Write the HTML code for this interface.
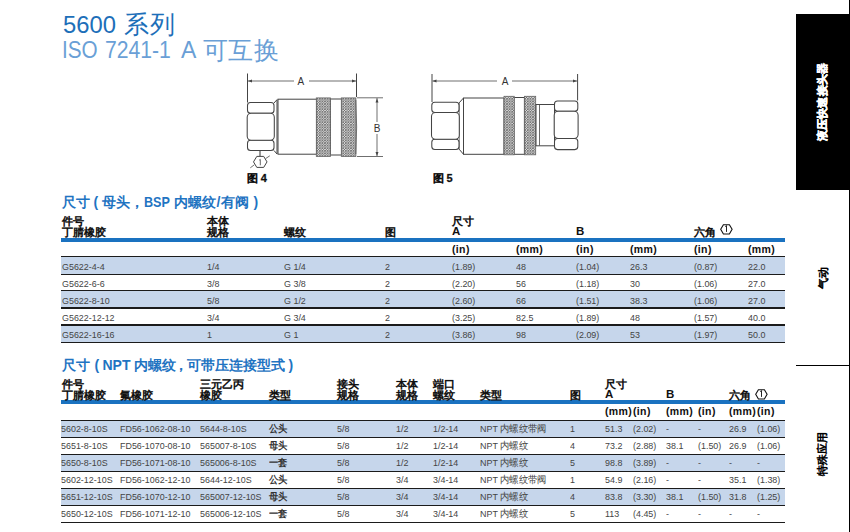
<!DOCTYPE html>
<html><head><meta charset="utf-8">
<style>
html,body{margin:0;padding:0;background:#fff;width:850px;height:532px;overflow:hidden;}
body{position:relative;font-family:"Liberation Sans", sans-serif;}
.t{position:absolute;white-space:nowrap;line-height:1.2;}
.r{position:absolute;}
svg{position:absolute;left:0;top:0;}
</style></head><body>
<div class="t" style="left:63px;top:10.5px;font-size:23.8px;color:#1d6fb9;font-weight:normal;">5600</div>
<div class="t" style="left:124px;top:9px;font-size:25px;color:#1d6fb9;font-weight:normal;letter-spacing:0.5px;">系列</div>
<div class="t" style="left:62px;top:37px;font-size:23px;color:#6a9fd6;font-weight:normal;transform:scaleX(0.9);transform-origin:0 0;">ISO</div>
<div class="t" style="left:105px;top:37px;font-size:23px;color:#6a9fd6;font-weight:normal;transform:scaleX(0.92);transform-origin:0 0;">7241-1</div>
<div class="t" style="left:181px;top:37px;font-size:23px;color:#6a9fd6;font-weight:normal;">A</div>
<div class="t" style="left:202.5px;top:34.5px;font-size:25px;color:#6a9fd6;font-weight:normal;letter-spacing:0.5px;">可互换</div>
<div class="r" style="left:796px;top:14px;width:53px;height:176px;background:#000;"></div>
<div class="r" style="left:848.6px;top:0px;width:1.3px;height:532px;background:#000;"></div>
<div class="r" style="left:796px;top:365px;width:53px;height:1.2px;background:#000;"></div>
<div class="t" style="left:822.5px;top:101.5px;font-size:11.3px;color:#fff;font-weight:bold;transform:translate(-50%,-50%) rotate(-90deg);line-height:1;letter-spacing:0.2px;-webkit-text-stroke:0.5px #fff;">液压快速接头器</div>
<div class="t" style="left:823px;top:277.5px;font-size:11px;color:#000;font-weight:bold;transform:translate(-50%,-50%) rotate(-90deg);line-height:1;letter-spacing:0px;-webkit-text-stroke:0.3px rgba(0,0,0,0.4);">气动</div>
<div class="t" style="left:822px;top:453.5px;font-size:11px;color:#000;font-weight:bold;transform:translate(-50%,-50%) rotate(-90deg);line-height:1;letter-spacing:0px;-webkit-text-stroke:0.3px rgba(0,0,0,0.4);">特殊应用</div>
<div class="t" style="left:61.5px;top:193.7px;font-size:14px;color:#1f74c2;font-weight:bold;">尺寸</div>
<div class="t" style="left:93.5px;top:193.7px;font-size:14px;color:#1f74c2;font-weight:bold;">(</div>
<div class="t" style="left:101.5px;top:193.7px;font-size:14px;color:#1f74c2;font-weight:bold;">母头</div>
<div class="t" style="left:129.5px;top:193.7px;font-size:14px;color:#1f74c2;font-weight:bold;">，</div>
<div class="t" style="left:144px;top:193.7px;font-size:14px;color:#1f74c2;font-weight:bold;"><span style="display:inline-block;transform:scaleX(0.9);transform-origin:0 0">BSP</span></div>
<div class="t" style="left:174px;top:193.7px;font-size:14px;color:#1f74c2;font-weight:bold;"><span style="letter-spacing:0.2px">内螺纹/有阀</span></div>
<div class="t" style="left:253.5px;top:193.7px;font-size:14px;color:#1f74c2;font-weight:bold;">)</div>
<div class="t" style="left:62px;top:356.5px;font-size:14px;color:#1f74c2;font-weight:bold;">尺寸</div>
<div class="t" style="left:94.5px;top:356.5px;font-size:14px;color:#1f74c2;font-weight:bold;">(</div>
<div class="t" style="left:102.5px;top:356.5px;font-size:14px;color:#1f74c2;font-weight:bold;">NPT</div>
<div class="t" style="left:133.5px;top:356.5px;font-size:14px;color:#1f74c2;font-weight:bold;">内螺纹</div>
<div class="t" style="left:173.5px;top:356.5px;font-size:14px;color:#1f74c2;font-weight:bold;">，</div>
<div class="t" style="left:187px;top:356.5px;font-size:14px;color:#1f74c2;font-weight:bold;">可带压连接型式</div>
<div class="t" style="left:288.5px;top:356.5px;font-size:14px;color:#1f74c2;font-weight:bold;">)</div>
<div class="r" style="left:61px;top:238px;width:724px;height:3.5px;background:#1a72c0;"></div>
<div class="r" style="left:61px;top:256.8px;width:724px;height:17.399999999999977px;background:#c6d6eb;"></div>
<div class="r" style="left:61px;top:290.8px;width:724px;height:17.19999999999999px;background:#c6d6eb;"></div>
<div class="r" style="left:61px;top:325.0px;width:724px;height:17.19999999999999px;background:#c6d6eb;"></div>
<div class="r" style="left:61px;top:256.15000000000003px;width:724px;height:1.3px;background:#1b1b1b;"></div>
<div class="r" style="left:61px;top:273.55px;width:724px;height:1.3px;background:#1b1b1b;"></div>
<div class="r" style="left:61px;top:290.15000000000003px;width:724px;height:1.3px;background:#1b1b1b;"></div>
<div class="r" style="left:61px;top:307.35px;width:724px;height:1.3px;background:#1b1b1b;"></div>
<div class="r" style="left:61px;top:324.35px;width:724px;height:1.3px;background:#1b1b1b;"></div>
<div class="r" style="left:61px;top:341.55px;width:724px;height:1.3px;background:#1b1b1b;"></div>
<div class="t" style="left:62px;top:214.5px;font-size:10.5px;color:#111;font-weight:bold;-webkit-text-stroke:0.4px rgba(17,17,17,0.4);">件号</div>
<div class="t" style="left:62px;top:225.5px;font-size:10.5px;color:#111;font-weight:bold;-webkit-text-stroke:0.4px rgba(17,17,17,0.4);">丁腈橡胶</div>
<div class="t" style="left:207px;top:214.5px;font-size:10.5px;color:#111;font-weight:bold;-webkit-text-stroke:0.4px rgba(17,17,17,0.4);">本体</div>
<div class="t" style="left:207px;top:225.5px;font-size:10.5px;color:#111;font-weight:bold;-webkit-text-stroke:0.4px rgba(17,17,17,0.4);">规格</div>
<div class="t" style="left:284px;top:225.5px;font-size:10.5px;color:#111;font-weight:bold;-webkit-text-stroke:0.4px rgba(17,17,17,0.4);">螺纹</div>
<div class="t" style="left:385px;top:225.5px;font-size:10.5px;color:#111;font-weight:bold;-webkit-text-stroke:0.4px rgba(17,17,17,0.4);">图</div>
<div class="t" style="left:452px;top:214.5px;font-size:10.5px;color:#111;font-weight:bold;-webkit-text-stroke:0.4px rgba(17,17,17,0.4);">尺寸</div>
<div class="t" style="left:452px;top:224.8px;font-size:11.5px;color:#111;font-weight:bold;">A</div>
<div class="t" style="left:576px;top:224.8px;font-size:11.5px;color:#111;font-weight:bold;">B</div>
<div class="t" style="left:694px;top:225.5px;font-size:10.5px;color:#111;font-weight:bold;-webkit-text-stroke:0.4px rgba(17,17,17,0.4);">六角</div>
<svg style="left:720px;top:224.1px" width="13" height="11" viewBox="0 0 13 11"><path d="M0.7,5.3 L3.4,0.7 L9.4,0.7 L12.1,5.3 L9.4,10 L3.4,10 Z" fill="none" stroke="#111" stroke-width="1.1"/><path d="M5.2,2.6 L6.5,1.6 L6.5,7.9" fill="none" stroke="#222" stroke-width="1"/></svg>
<div class="t" style="left:452px;top:243px;font-size:10.5px;color:#111;font-weight:bold;letter-spacing:0.35px;">(in)</div>
<div class="t" style="left:516px;top:243px;font-size:10.5px;color:#111;font-weight:bold;letter-spacing:0.35px;">(mm)</div>
<div class="t" style="left:576px;top:243px;font-size:10.5px;color:#111;font-weight:bold;letter-spacing:0.35px;">(in)</div>
<div class="t" style="left:630px;top:243px;font-size:10.5px;color:#111;font-weight:bold;letter-spacing:0.35px;">(mm)</div>
<div class="t" style="left:694px;top:243px;font-size:10.5px;color:#111;font-weight:bold;letter-spacing:0.35px;">(in)</div>
<div class="t" style="left:748px;top:243px;font-size:10.5px;color:#111;font-weight:bold;letter-spacing:0.35px;">(mm)</div>
<div class="t" style="left:62px;top:260.6px;font-size:9.6px;color:#444;font-weight:normal;transform:scaleX(0.93);transform-origin:0 0;">G5622-4-4</div>
<div class="t" style="left:207px;top:260.6px;font-size:9.6px;color:#444;font-weight:normal;transform:scaleX(0.93);transform-origin:0 0;">1/4</div>
<div class="t" style="left:284px;top:260.6px;font-size:9.6px;color:#444;font-weight:normal;transform:scaleX(0.93);transform-origin:0 0;">G 1/4</div>
<div class="t" style="left:385px;top:260.6px;font-size:9.6px;color:#444;font-weight:normal;transform:scaleX(0.93);transform-origin:0 0;">2</div>
<div class="t" style="left:452px;top:260.6px;font-size:9.6px;color:#444;font-weight:normal;transform:scaleX(0.93);transform-origin:0 0;">(1.89)</div>
<div class="t" style="left:516px;top:260.6px;font-size:9.6px;color:#444;font-weight:normal;transform:scaleX(0.93);transform-origin:0 0;">48</div>
<div class="t" style="left:576px;top:260.6px;font-size:9.6px;color:#444;font-weight:normal;transform:scaleX(0.93);transform-origin:0 0;">(1.04)</div>
<div class="t" style="left:630px;top:260.6px;font-size:9.6px;color:#444;font-weight:normal;transform:scaleX(0.93);transform-origin:0 0;">26.3</div>
<div class="t" style="left:694px;top:260.6px;font-size:9.6px;color:#444;font-weight:normal;transform:scaleX(0.93);transform-origin:0 0;">(0.87)</div>
<div class="t" style="left:748px;top:260.6px;font-size:9.6px;color:#444;font-weight:normal;transform:scaleX(0.93);transform-origin:0 0;">22.0</div>
<div class="t" style="left:62px;top:278.0px;font-size:9.6px;color:#444;font-weight:normal;transform:scaleX(0.93);transform-origin:0 0;">G5622-6-6</div>
<div class="t" style="left:207px;top:278.0px;font-size:9.6px;color:#444;font-weight:normal;transform:scaleX(0.93);transform-origin:0 0;">3/8</div>
<div class="t" style="left:284px;top:278.0px;font-size:9.6px;color:#444;font-weight:normal;transform:scaleX(0.93);transform-origin:0 0;">G 3/8</div>
<div class="t" style="left:385px;top:278.0px;font-size:9.6px;color:#444;font-weight:normal;transform:scaleX(0.93);transform-origin:0 0;">2</div>
<div class="t" style="left:452px;top:278.0px;font-size:9.6px;color:#444;font-weight:normal;transform:scaleX(0.93);transform-origin:0 0;">(2.20)</div>
<div class="t" style="left:516px;top:278.0px;font-size:9.6px;color:#444;font-weight:normal;transform:scaleX(0.93);transform-origin:0 0;">56</div>
<div class="t" style="left:576px;top:278.0px;font-size:9.6px;color:#444;font-weight:normal;transform:scaleX(0.93);transform-origin:0 0;">(1.18)</div>
<div class="t" style="left:630px;top:278.0px;font-size:9.6px;color:#444;font-weight:normal;transform:scaleX(0.93);transform-origin:0 0;">30</div>
<div class="t" style="left:694px;top:278.0px;font-size:9.6px;color:#444;font-weight:normal;transform:scaleX(0.93);transform-origin:0 0;">(1.06)</div>
<div class="t" style="left:748px;top:278.0px;font-size:9.6px;color:#444;font-weight:normal;transform:scaleX(0.93);transform-origin:0 0;">27.0</div>
<div class="t" style="left:62px;top:294.6px;font-size:9.6px;color:#444;font-weight:normal;transform:scaleX(0.93);transform-origin:0 0;">G5622-8-10</div>
<div class="t" style="left:207px;top:294.6px;font-size:9.6px;color:#444;font-weight:normal;transform:scaleX(0.93);transform-origin:0 0;">5/8</div>
<div class="t" style="left:284px;top:294.6px;font-size:9.6px;color:#444;font-weight:normal;transform:scaleX(0.93);transform-origin:0 0;">G 1/2</div>
<div class="t" style="left:385px;top:294.6px;font-size:9.6px;color:#444;font-weight:normal;transform:scaleX(0.93);transform-origin:0 0;">2</div>
<div class="t" style="left:452px;top:294.6px;font-size:9.6px;color:#444;font-weight:normal;transform:scaleX(0.93);transform-origin:0 0;">(2.60)</div>
<div class="t" style="left:516px;top:294.6px;font-size:9.6px;color:#444;font-weight:normal;transform:scaleX(0.93);transform-origin:0 0;">66</div>
<div class="t" style="left:576px;top:294.6px;font-size:9.6px;color:#444;font-weight:normal;transform:scaleX(0.93);transform-origin:0 0;">(1.51)</div>
<div class="t" style="left:630px;top:294.6px;font-size:9.6px;color:#444;font-weight:normal;transform:scaleX(0.93);transform-origin:0 0;">38.3</div>
<div class="t" style="left:694px;top:294.6px;font-size:9.6px;color:#444;font-weight:normal;transform:scaleX(0.93);transform-origin:0 0;">(1.06)</div>
<div class="t" style="left:748px;top:294.6px;font-size:9.6px;color:#444;font-weight:normal;transform:scaleX(0.93);transform-origin:0 0;">27.0</div>
<div class="t" style="left:62px;top:311.8px;font-size:9.6px;color:#444;font-weight:normal;transform:scaleX(0.93);transform-origin:0 0;">G5622-12-12</div>
<div class="t" style="left:207px;top:311.8px;font-size:9.6px;color:#444;font-weight:normal;transform:scaleX(0.93);transform-origin:0 0;">3/4</div>
<div class="t" style="left:284px;top:311.8px;font-size:9.6px;color:#444;font-weight:normal;transform:scaleX(0.93);transform-origin:0 0;">G 3/4</div>
<div class="t" style="left:385px;top:311.8px;font-size:9.6px;color:#444;font-weight:normal;transform:scaleX(0.93);transform-origin:0 0;">2</div>
<div class="t" style="left:452px;top:311.8px;font-size:9.6px;color:#444;font-weight:normal;transform:scaleX(0.93);transform-origin:0 0;">(3.25)</div>
<div class="t" style="left:516px;top:311.8px;font-size:9.6px;color:#444;font-weight:normal;transform:scaleX(0.93);transform-origin:0 0;">82.5</div>
<div class="t" style="left:576px;top:311.8px;font-size:9.6px;color:#444;font-weight:normal;transform:scaleX(0.93);transform-origin:0 0;">(1.89)</div>
<div class="t" style="left:630px;top:311.8px;font-size:9.6px;color:#444;font-weight:normal;transform:scaleX(0.93);transform-origin:0 0;">48</div>
<div class="t" style="left:694px;top:311.8px;font-size:9.6px;color:#444;font-weight:normal;transform:scaleX(0.93);transform-origin:0 0;">(1.57)</div>
<div class="t" style="left:748px;top:311.8px;font-size:9.6px;color:#444;font-weight:normal;transform:scaleX(0.93);transform-origin:0 0;">40.0</div>
<div class="t" style="left:62px;top:328.8px;font-size:9.6px;color:#444;font-weight:normal;transform:scaleX(0.93);transform-origin:0 0;">G5622-16-16</div>
<div class="t" style="left:207px;top:328.8px;font-size:9.6px;color:#444;font-weight:normal;transform:scaleX(0.93);transform-origin:0 0;">1</div>
<div class="t" style="left:284px;top:328.8px;font-size:9.6px;color:#444;font-weight:normal;transform:scaleX(0.93);transform-origin:0 0;">G 1</div>
<div class="t" style="left:385px;top:328.8px;font-size:9.6px;color:#444;font-weight:normal;transform:scaleX(0.93);transform-origin:0 0;">2</div>
<div class="t" style="left:452px;top:328.8px;font-size:9.6px;color:#444;font-weight:normal;transform:scaleX(0.93);transform-origin:0 0;">(3.86)</div>
<div class="t" style="left:516px;top:328.8px;font-size:9.6px;color:#444;font-weight:normal;transform:scaleX(0.93);transform-origin:0 0;">98</div>
<div class="t" style="left:576px;top:328.8px;font-size:9.6px;color:#444;font-weight:normal;transform:scaleX(0.93);transform-origin:0 0;">(2.09)</div>
<div class="t" style="left:630px;top:328.8px;font-size:9.6px;color:#444;font-weight:normal;transform:scaleX(0.93);transform-origin:0 0;">53</div>
<div class="t" style="left:694px;top:328.8px;font-size:9.6px;color:#444;font-weight:normal;transform:scaleX(0.93);transform-origin:0 0;">(1.97)</div>
<div class="t" style="left:748px;top:328.8px;font-size:9.6px;color:#444;font-weight:normal;transform:scaleX(0.93);transform-origin:0 0;">50.0</div>
<div class="r" style="left:61px;top:400px;width:724px;height:3.5px;background:#1a72c0;"></div>
<div class="r" style="left:61px;top:420.4px;width:724px;height:17.0px;background:#c6d6eb;"></div>
<div class="r" style="left:61px;top:454.5px;width:724px;height:17.100000000000023px;background:#c6d6eb;"></div>
<div class="r" style="left:61px;top:488.6px;width:724px;height:17.099999999999966px;background:#c6d6eb;"></div>
<div class="r" style="left:61px;top:419.75px;width:724px;height:1.3px;background:#1b1b1b;"></div>
<div class="r" style="left:61px;top:436.75px;width:724px;height:1.3px;background:#1b1b1b;"></div>
<div class="r" style="left:61px;top:453.85px;width:724px;height:1.3px;background:#1b1b1b;"></div>
<div class="r" style="left:61px;top:470.95000000000005px;width:724px;height:1.3px;background:#1b1b1b;"></div>
<div class="r" style="left:61px;top:487.95000000000005px;width:724px;height:1.3px;background:#1b1b1b;"></div>
<div class="r" style="left:61px;top:505.05px;width:724px;height:1.3px;background:#1b1b1b;"></div>
<div class="r" style="left:61px;top:522.0500000000001px;width:724px;height:1.3px;background:#1b1b1b;"></div>
<div class="t" style="left:62px;top:377.5px;font-size:10.5px;color:#111;font-weight:bold;-webkit-text-stroke:0.4px rgba(17,17,17,0.4);">件号</div>
<div class="t" style="left:62px;top:388.5px;font-size:10.5px;color:#111;font-weight:bold;-webkit-text-stroke:0.4px rgba(17,17,17,0.4);">丁腈橡胶</div>
<div class="t" style="left:120px;top:388.5px;font-size:10.5px;color:#111;font-weight:bold;-webkit-text-stroke:0.4px rgba(17,17,17,0.4);">氟橡胶</div>
<div class="t" style="left:200px;top:377.5px;font-size:10.5px;color:#111;font-weight:bold;-webkit-text-stroke:0.4px rgba(17,17,17,0.4);">三元乙丙</div>
<div class="t" style="left:200px;top:388.5px;font-size:10.5px;color:#111;font-weight:bold;-webkit-text-stroke:0.4px rgba(17,17,17,0.4);">橡胶</div>
<div class="t" style="left:269px;top:388.5px;font-size:10.5px;color:#111;font-weight:bold;-webkit-text-stroke:0.4px rgba(17,17,17,0.4);">类型</div>
<div class="t" style="left:337px;top:377.5px;font-size:10.5px;color:#111;font-weight:bold;-webkit-text-stroke:0.4px rgba(17,17,17,0.4);">接头</div>
<div class="t" style="left:337px;top:388.5px;font-size:10.5px;color:#111;font-weight:bold;-webkit-text-stroke:0.4px rgba(17,17,17,0.4);">规格</div>
<div class="t" style="left:396px;top:377.5px;font-size:10.5px;color:#111;font-weight:bold;-webkit-text-stroke:0.4px rgba(17,17,17,0.4);">本体</div>
<div class="t" style="left:396px;top:388.5px;font-size:10.5px;color:#111;font-weight:bold;-webkit-text-stroke:0.4px rgba(17,17,17,0.4);">规格</div>
<div class="t" style="left:433px;top:377.5px;font-size:10.5px;color:#111;font-weight:bold;-webkit-text-stroke:0.4px rgba(17,17,17,0.4);">端口</div>
<div class="t" style="left:433px;top:388.5px;font-size:10.5px;color:#111;font-weight:bold;-webkit-text-stroke:0.4px rgba(17,17,17,0.4);">螺纹</div>
<div class="t" style="left:480px;top:388.5px;font-size:10.5px;color:#111;font-weight:bold;-webkit-text-stroke:0.4px rgba(17,17,17,0.4);">类型</div>
<div class="t" style="left:570px;top:388.5px;font-size:10.5px;color:#111;font-weight:bold;-webkit-text-stroke:0.4px rgba(17,17,17,0.4);">图</div>
<div class="t" style="left:605px;top:377.5px;font-size:10.5px;color:#111;font-weight:bold;-webkit-text-stroke:0.4px rgba(17,17,17,0.4);">尺寸</div>
<div class="t" style="left:605px;top:387.8px;font-size:11.5px;color:#111;font-weight:bold;">A</div>
<div class="t" style="left:666px;top:387.8px;font-size:11.5px;color:#111;font-weight:bold;">B</div>
<div class="t" style="left:729px;top:388.5px;font-size:10.5px;color:#111;font-weight:bold;-webkit-text-stroke:0.4px rgba(17,17,17,0.4);">六角</div>
<svg style="left:754.7px;top:388.8px" width="13" height="11" viewBox="0 0 13 11"><path d="M0.7,5.3 L3.4,0.7 L9.4,0.7 L12.1,5.3 L9.4,10 L3.4,10 Z" fill="none" stroke="#111" stroke-width="1.1"/><path d="M5.2,2.6 L6.5,1.6 L6.5,7.9" fill="none" stroke="#222" stroke-width="1"/></svg>
<div class="t" style="left:605px;top:405px;font-size:10.5px;color:#111;font-weight:bold;letter-spacing:0.35px;">(mm)</div>
<div class="t" style="left:633px;top:405px;font-size:10.5px;color:#111;font-weight:bold;letter-spacing:0.35px;">(in)</div>
<div class="t" style="left:666px;top:405px;font-size:10.5px;color:#111;font-weight:bold;letter-spacing:0.35px;">(mm)</div>
<div class="t" style="left:698px;top:405px;font-size:10.5px;color:#111;font-weight:bold;letter-spacing:0.35px;">(in)</div>
<div class="t" style="left:729px;top:405px;font-size:10.5px;color:#111;font-weight:bold;letter-spacing:0.35px;">(mm)</div>
<div class="t" style="left:757px;top:405px;font-size:10.5px;color:#111;font-weight:bold;letter-spacing:0.35px;">(in)</div>
<div class="t" style="left:61px;top:423.0px;font-size:9.6px;color:#444;font-weight:normal;transform:scaleX(0.93);transform-origin:0 0;">5602-8-10S</div>
<div class="t" style="left:120px;top:423.0px;font-size:9.6px;color:#444;font-weight:normal;transform:scaleX(0.93);transform-origin:0 0;">FD56-1062-08-10</div>
<div class="t" style="left:200px;top:423.0px;font-size:9.6px;color:#444;font-weight:normal;transform:scaleX(0.93);transform-origin:0 0;">5644-8-10S</div>
<div class="t" style="left:269px;top:423.0px;font-size:9.6px;color:#444;font-weight:normal;transform:scaleX(0.93);transform-origin:0 0;"><b style="color:#333">公头</b></div>
<div class="t" style="left:337px;top:423.0px;font-size:9.6px;color:#444;font-weight:normal;transform:scaleX(0.93);transform-origin:0 0;">5/8</div>
<div class="t" style="left:396px;top:423.0px;font-size:9.6px;color:#444;font-weight:normal;transform:scaleX(0.93);transform-origin:0 0;">1/2</div>
<div class="t" style="left:433px;top:423.0px;font-size:9.6px;color:#444;font-weight:normal;transform:scaleX(0.93);transform-origin:0 0;">1/2-14</div>
<div class="t" style="left:480px;top:423.0px;font-size:9.6px;color:#444;font-weight:normal;transform:scaleX(0.93);transform-origin:0 0;">NPT 内螺纹带阀</div>
<div class="t" style="left:570px;top:423.0px;font-size:9.6px;color:#444;font-weight:normal;transform:scaleX(0.93);transform-origin:0 0;">1</div>
<div class="t" style="left:605px;top:423.0px;font-size:9.6px;color:#444;font-weight:normal;transform:scaleX(0.93);transform-origin:0 0;">51.3</div>
<div class="t" style="left:633px;top:423.0px;font-size:9.6px;color:#444;font-weight:normal;transform:scaleX(0.93);transform-origin:0 0;">(2.02)</div>
<div class="t" style="left:666px;top:423.0px;font-size:9.6px;color:#444;font-weight:normal;transform:scaleX(0.93);transform-origin:0 0;">-</div>
<div class="t" style="left:698px;top:423.0px;font-size:9.6px;color:#444;font-weight:normal;transform:scaleX(0.93);transform-origin:0 0;">-</div>
<div class="t" style="left:729px;top:423.0px;font-size:9.6px;color:#444;font-weight:normal;transform:scaleX(0.93);transform-origin:0 0;">26.9</div>
<div class="t" style="left:757px;top:423.0px;font-size:9.6px;color:#444;font-weight:normal;transform:scaleX(0.93);transform-origin:0 0;">(1.06)</div>
<div class="t" style="left:61px;top:440.0px;font-size:9.6px;color:#444;font-weight:normal;transform:scaleX(0.93);transform-origin:0 0;">5651-8-10S</div>
<div class="t" style="left:120px;top:440.0px;font-size:9.6px;color:#444;font-weight:normal;transform:scaleX(0.93);transform-origin:0 0;">FD56-1070-08-10</div>
<div class="t" style="left:200px;top:440.0px;font-size:9.6px;color:#444;font-weight:normal;transform:scaleX(0.93);transform-origin:0 0;">565007-8-10S</div>
<div class="t" style="left:269px;top:440.0px;font-size:9.6px;color:#444;font-weight:normal;transform:scaleX(0.93);transform-origin:0 0;"><b style="color:#333">母头</b></div>
<div class="t" style="left:337px;top:440.0px;font-size:9.6px;color:#444;font-weight:normal;transform:scaleX(0.93);transform-origin:0 0;">5/8</div>
<div class="t" style="left:396px;top:440.0px;font-size:9.6px;color:#444;font-weight:normal;transform:scaleX(0.93);transform-origin:0 0;">1/2</div>
<div class="t" style="left:433px;top:440.0px;font-size:9.6px;color:#444;font-weight:normal;transform:scaleX(0.93);transform-origin:0 0;">1/2-14</div>
<div class="t" style="left:480px;top:440.0px;font-size:9.6px;color:#444;font-weight:normal;transform:scaleX(0.93);transform-origin:0 0;">NPT 内螺纹</div>
<div class="t" style="left:570px;top:440.0px;font-size:9.6px;color:#444;font-weight:normal;transform:scaleX(0.93);transform-origin:0 0;">4</div>
<div class="t" style="left:605px;top:440.0px;font-size:9.6px;color:#444;font-weight:normal;transform:scaleX(0.93);transform-origin:0 0;">73.2</div>
<div class="t" style="left:633px;top:440.0px;font-size:9.6px;color:#444;font-weight:normal;transform:scaleX(0.93);transform-origin:0 0;">(2.88)</div>
<div class="t" style="left:666px;top:440.0px;font-size:9.6px;color:#444;font-weight:normal;transform:scaleX(0.93);transform-origin:0 0;">38.1</div>
<div class="t" style="left:698px;top:440.0px;font-size:9.6px;color:#444;font-weight:normal;transform:scaleX(0.93);transform-origin:0 0;">(1.50)</div>
<div class="t" style="left:729px;top:440.0px;font-size:9.6px;color:#444;font-weight:normal;transform:scaleX(0.93);transform-origin:0 0;">26.9</div>
<div class="t" style="left:757px;top:440.0px;font-size:9.6px;color:#444;font-weight:normal;transform:scaleX(0.93);transform-origin:0 0;">(1.06)</div>
<div class="t" style="left:61px;top:457.1px;font-size:9.6px;color:#444;font-weight:normal;transform:scaleX(0.93);transform-origin:0 0;">5650-8-10S</div>
<div class="t" style="left:120px;top:457.1px;font-size:9.6px;color:#444;font-weight:normal;transform:scaleX(0.93);transform-origin:0 0;">FD56-1071-08-10</div>
<div class="t" style="left:200px;top:457.1px;font-size:9.6px;color:#444;font-weight:normal;transform:scaleX(0.93);transform-origin:0 0;">565006-8-10S</div>
<div class="t" style="left:269px;top:457.1px;font-size:9.6px;color:#444;font-weight:normal;transform:scaleX(0.93);transform-origin:0 0;"><b style="color:#333">一套</b></div>
<div class="t" style="left:337px;top:457.1px;font-size:9.6px;color:#444;font-weight:normal;transform:scaleX(0.93);transform-origin:0 0;">5/8</div>
<div class="t" style="left:396px;top:457.1px;font-size:9.6px;color:#444;font-weight:normal;transform:scaleX(0.93);transform-origin:0 0;">1/2</div>
<div class="t" style="left:433px;top:457.1px;font-size:9.6px;color:#444;font-weight:normal;transform:scaleX(0.93);transform-origin:0 0;">1/2-14</div>
<div class="t" style="left:480px;top:457.1px;font-size:9.6px;color:#444;font-weight:normal;transform:scaleX(0.93);transform-origin:0 0;">NPT 内螺纹</div>
<div class="t" style="left:570px;top:457.1px;font-size:9.6px;color:#444;font-weight:normal;transform:scaleX(0.93);transform-origin:0 0;">5</div>
<div class="t" style="left:605px;top:457.1px;font-size:9.6px;color:#444;font-weight:normal;transform:scaleX(0.93);transform-origin:0 0;">98.8</div>
<div class="t" style="left:633px;top:457.1px;font-size:9.6px;color:#444;font-weight:normal;transform:scaleX(0.93);transform-origin:0 0;">(3.89)</div>
<div class="t" style="left:666px;top:457.1px;font-size:9.6px;color:#444;font-weight:normal;transform:scaleX(0.93);transform-origin:0 0;">-</div>
<div class="t" style="left:698px;top:457.1px;font-size:9.6px;color:#444;font-weight:normal;transform:scaleX(0.93);transform-origin:0 0;">-</div>
<div class="t" style="left:729px;top:457.1px;font-size:9.6px;color:#444;font-weight:normal;transform:scaleX(0.93);transform-origin:0 0;">-</div>
<div class="t" style="left:757px;top:457.1px;font-size:9.6px;color:#444;font-weight:normal;transform:scaleX(0.93);transform-origin:0 0;">-</div>
<div class="t" style="left:61px;top:474.20000000000005px;font-size:9.6px;color:#444;font-weight:normal;transform:scaleX(0.93);transform-origin:0 0;">5602-12-10S</div>
<div class="t" style="left:120px;top:474.20000000000005px;font-size:9.6px;color:#444;font-weight:normal;transform:scaleX(0.93);transform-origin:0 0;">FD56-1062-12-10</div>
<div class="t" style="left:200px;top:474.20000000000005px;font-size:9.6px;color:#444;font-weight:normal;transform:scaleX(0.93);transform-origin:0 0;">5644-12-10S</div>
<div class="t" style="left:269px;top:474.20000000000005px;font-size:9.6px;color:#444;font-weight:normal;transform:scaleX(0.93);transform-origin:0 0;"><b style="color:#333">公头</b></div>
<div class="t" style="left:337px;top:474.20000000000005px;font-size:9.6px;color:#444;font-weight:normal;transform:scaleX(0.93);transform-origin:0 0;">5/8</div>
<div class="t" style="left:396px;top:474.20000000000005px;font-size:9.6px;color:#444;font-weight:normal;transform:scaleX(0.93);transform-origin:0 0;">3/4</div>
<div class="t" style="left:433px;top:474.20000000000005px;font-size:9.6px;color:#444;font-weight:normal;transform:scaleX(0.93);transform-origin:0 0;">3/4-14</div>
<div class="t" style="left:480px;top:474.20000000000005px;font-size:9.6px;color:#444;font-weight:normal;transform:scaleX(0.93);transform-origin:0 0;">NPT 内螺纹带阀</div>
<div class="t" style="left:570px;top:474.20000000000005px;font-size:9.6px;color:#444;font-weight:normal;transform:scaleX(0.93);transform-origin:0 0;">1</div>
<div class="t" style="left:605px;top:474.20000000000005px;font-size:9.6px;color:#444;font-weight:normal;transform:scaleX(0.93);transform-origin:0 0;">54.9</div>
<div class="t" style="left:633px;top:474.20000000000005px;font-size:9.6px;color:#444;font-weight:normal;transform:scaleX(0.93);transform-origin:0 0;">(2.16)</div>
<div class="t" style="left:666px;top:474.20000000000005px;font-size:9.6px;color:#444;font-weight:normal;transform:scaleX(0.93);transform-origin:0 0;">-</div>
<div class="t" style="left:698px;top:474.20000000000005px;font-size:9.6px;color:#444;font-weight:normal;transform:scaleX(0.93);transform-origin:0 0;">-</div>
<div class="t" style="left:729px;top:474.20000000000005px;font-size:9.6px;color:#444;font-weight:normal;transform:scaleX(0.93);transform-origin:0 0;">35.1</div>
<div class="t" style="left:757px;top:474.20000000000005px;font-size:9.6px;color:#444;font-weight:normal;transform:scaleX(0.93);transform-origin:0 0;">(1.38)</div>
<div class="t" style="left:61px;top:491.20000000000005px;font-size:9.6px;color:#444;font-weight:normal;transform:scaleX(0.93);transform-origin:0 0;">5651-12-10S</div>
<div class="t" style="left:120px;top:491.20000000000005px;font-size:9.6px;color:#444;font-weight:normal;transform:scaleX(0.93);transform-origin:0 0;">FD56-1070-12-10</div>
<div class="t" style="left:200px;top:491.20000000000005px;font-size:9.6px;color:#444;font-weight:normal;transform:scaleX(0.93);transform-origin:0 0;">565007-12-10S</div>
<div class="t" style="left:269px;top:491.20000000000005px;font-size:9.6px;color:#444;font-weight:normal;transform:scaleX(0.93);transform-origin:0 0;"><b style="color:#333">母头</b></div>
<div class="t" style="left:337px;top:491.20000000000005px;font-size:9.6px;color:#444;font-weight:normal;transform:scaleX(0.93);transform-origin:0 0;">5/8</div>
<div class="t" style="left:396px;top:491.20000000000005px;font-size:9.6px;color:#444;font-weight:normal;transform:scaleX(0.93);transform-origin:0 0;">3/4</div>
<div class="t" style="left:433px;top:491.20000000000005px;font-size:9.6px;color:#444;font-weight:normal;transform:scaleX(0.93);transform-origin:0 0;">3/4-14</div>
<div class="t" style="left:480px;top:491.20000000000005px;font-size:9.6px;color:#444;font-weight:normal;transform:scaleX(0.93);transform-origin:0 0;">NPT 内螺纹</div>
<div class="t" style="left:570px;top:491.20000000000005px;font-size:9.6px;color:#444;font-weight:normal;transform:scaleX(0.93);transform-origin:0 0;">4</div>
<div class="t" style="left:605px;top:491.20000000000005px;font-size:9.6px;color:#444;font-weight:normal;transform:scaleX(0.93);transform-origin:0 0;">83.8</div>
<div class="t" style="left:633px;top:491.20000000000005px;font-size:9.6px;color:#444;font-weight:normal;transform:scaleX(0.93);transform-origin:0 0;">(3.30)</div>
<div class="t" style="left:666px;top:491.20000000000005px;font-size:9.6px;color:#444;font-weight:normal;transform:scaleX(0.93);transform-origin:0 0;">38.1</div>
<div class="t" style="left:698px;top:491.20000000000005px;font-size:9.6px;color:#444;font-weight:normal;transform:scaleX(0.93);transform-origin:0 0;">(1.50)</div>
<div class="t" style="left:729px;top:491.20000000000005px;font-size:9.6px;color:#444;font-weight:normal;transform:scaleX(0.93);transform-origin:0 0;">31.8</div>
<div class="t" style="left:757px;top:491.20000000000005px;font-size:9.6px;color:#444;font-weight:normal;transform:scaleX(0.93);transform-origin:0 0;">(1.25)</div>
<div class="t" style="left:61px;top:508.3px;font-size:9.6px;color:#444;font-weight:normal;transform:scaleX(0.93);transform-origin:0 0;">5650-12-10S</div>
<div class="t" style="left:120px;top:508.3px;font-size:9.6px;color:#444;font-weight:normal;transform:scaleX(0.93);transform-origin:0 0;">FD56-1071-12-10</div>
<div class="t" style="left:200px;top:508.3px;font-size:9.6px;color:#444;font-weight:normal;transform:scaleX(0.93);transform-origin:0 0;">565006-12-10S</div>
<div class="t" style="left:269px;top:508.3px;font-size:9.6px;color:#444;font-weight:normal;transform:scaleX(0.93);transform-origin:0 0;"><b style="color:#333">一套</b></div>
<div class="t" style="left:337px;top:508.3px;font-size:9.6px;color:#444;font-weight:normal;transform:scaleX(0.93);transform-origin:0 0;">5/8</div>
<div class="t" style="left:396px;top:508.3px;font-size:9.6px;color:#444;font-weight:normal;transform:scaleX(0.93);transform-origin:0 0;">3/4</div>
<div class="t" style="left:433px;top:508.3px;font-size:9.6px;color:#444;font-weight:normal;transform:scaleX(0.93);transform-origin:0 0;">3/4-14</div>
<div class="t" style="left:480px;top:508.3px;font-size:9.6px;color:#444;font-weight:normal;transform:scaleX(0.93);transform-origin:0 0;">NPT 内螺纹</div>
<div class="t" style="left:570px;top:508.3px;font-size:9.6px;color:#444;font-weight:normal;transform:scaleX(0.93);transform-origin:0 0;">5</div>
<div class="t" style="left:605px;top:508.3px;font-size:9.6px;color:#444;font-weight:normal;transform:scaleX(0.93);transform-origin:0 0;">113</div>
<div class="t" style="left:633px;top:508.3px;font-size:9.6px;color:#444;font-weight:normal;transform:scaleX(0.93);transform-origin:0 0;">(4.45)</div>
<div class="t" style="left:666px;top:508.3px;font-size:9.6px;color:#444;font-weight:normal;transform:scaleX(0.93);transform-origin:0 0;">-</div>
<div class="t" style="left:698px;top:508.3px;font-size:9.6px;color:#444;font-weight:normal;transform:scaleX(0.93);transform-origin:0 0;">-</div>
<div class="t" style="left:729px;top:508.3px;font-size:9.6px;color:#444;font-weight:normal;transform:scaleX(0.93);transform-origin:0 0;">-</div>
<div class="t" style="left:757px;top:508.3px;font-size:9.6px;color:#444;font-weight:normal;transform:scaleX(0.93);transform-origin:0 0;">-</div>
<svg width="850" height="532" viewBox="0 0 850 532">
<defs><pattern id="kn" width="2.6" height="2.6" patternUnits="userSpaceOnUse"><rect width="2.6" height="2.6" fill="#d8d8d8"/><path d="M-0.65,0.65 L0.65,-0.65 M0,2.6 L2.6,0 M1.95,3.25 L3.25,1.95" stroke="#5c5c5c" stroke-width="0.75"/><path d="M-0.65,1.95 L0.65,3.25 M0,0 L2.6,2.6 M1.95,-0.65 L3.25,0.65" stroke="#6a6a6a" stroke-width="0.7"/></pattern></defs>
<line x1="247.5" y1="73.5" x2="247.5" y2="102.5" stroke="#444" stroke-width="1"/><line x1="356.5" y1="73.5" x2="356.5" y2="97" stroke="#444" stroke-width="1"/><line x1="248" y1="81" x2="294" y2="81" stroke="#555" stroke-width="0.85"/><line x1="309" y1="81" x2="356" y2="81" stroke="#555" stroke-width="0.85"/><path d="M248,81 L252,79.5 L252,82.5 Z" fill="#444"/><path d="M356,81 L352,79.5 L352,82.5 Z" fill="#444"/><text x="297.5" y="84.6" font-family="Liberation Sans, sans-serif" font-size="10" fill="#333">A</text><path d="M274,103 L277,99.7 L277,154 L274,150.5" fill="none" stroke="#444" stroke-width="1"/><rect x="278" y="99.2" width="38.5" height="55" fill="#fff" stroke="#444" stroke-width="1"/><rect x="330.5" y="99" width="11" height="56" fill="#fff" stroke="#444" stroke-width="1"/><rect x="247.5" y="102.5" width="26.5" height="10.700000000000003" rx="3" ry="3" fill="#fff" stroke="#444" stroke-width="1.05"/><rect x="247.5" y="140.3" width="26.5" height="10.199999999999989" rx="3" ry="3" fill="#fff" stroke="#444" stroke-width="1.05"/><rect x="247.2" y="113.2" width="27.1" height="27.10000000000001" rx="4" ry="4" fill="#fff" stroke="#444" stroke-width="1.05"/><rect x="316.3" y="97.9" width="14.2" height="58.6" fill="url(#kn)" stroke="#666" stroke-width="0.8"/><rect x="341.3" y="97.9" width="14.6" height="58.6" fill="url(#kn)" stroke="#666" stroke-width="0.8"/><path d="M355.8,100 Q357.5,127 355.8,154" fill="none" stroke="#555" stroke-width="0.8"/><line x1="357" y1="97.8" x2="383" y2="97.8" stroke="#555" stroke-width="0.85"/><line x1="357" y1="156.5" x2="383" y2="156.5" stroke="#555" stroke-width="0.85"/><line x1="377" y1="98" x2="377" y2="122" stroke="#555" stroke-width="0.85"/><line x1="377" y1="134" x2="377" y2="156" stroke="#555" stroke-width="0.85"/><path d="M377,98.5 L375.5,102.5 L378.5,102.5 Z" fill="#444"/><path d="M377,156 L375.5,152 L378.5,152 Z" fill="#444"/><text x="373.8" y="132.2" font-family="Liberation Sans, sans-serif" font-size="10" fill="#333">B</text><line x1="260" y1="150.8" x2="260" y2="156.4" stroke="#444" stroke-width="1.1"/><path d="M253.5,161.9 L256.8,156.4 L263.7,156.4 L267,161.9 L263.7,167.4 L256.8,167.4 Z" fill="#fff" stroke="#444" stroke-width="1"/><line x1="250.3" y1="167.8" x2="254.3" y2="164.8" stroke="#555" stroke-width="0.85"/><line x1="265.6" y1="158.6" x2="269.8" y2="155.8" stroke="#555" stroke-width="0.85"/><path d="M259.2,160.2 L260.3,159.4 L260.3,165.3" fill="none" stroke="#555" stroke-width="0.9"/><line x1="432" y1="74" x2="432" y2="102" stroke="#444" stroke-width="1"/><line x1="577.6" y1="74" x2="577.6" y2="100.5" stroke="#444" stroke-width="1"/><line x1="432.5" y1="81" x2="497" y2="81" stroke="#555" stroke-width="0.85"/><line x1="512" y1="81" x2="577" y2="81" stroke="#555" stroke-width="0.85"/><path d="M432.5,81 L436.5,79.5 L436.5,82.5 Z" fill="#444"/><path d="M577,81 L573,79.5 L573,82.5 Z" fill="#444"/><text x="501.8" y="84.6" font-family="Liberation Sans, sans-serif" font-size="10" fill="#333">A</text><rect x="463.5" y="98" width="40.5" height="56.3" fill="#fff" stroke="#444" stroke-width="1"/><path d="M459,103 L463.5,98 M459,149 L463.5,154.3" fill="none" stroke="#444" stroke-width="1"/><line x1="459.5" y1="102.5" x2="459.5" y2="149.5" stroke="#777" stroke-width="0.7"/><rect x="431.8" y="102.2" width="27.2" height="10.299999999999997" rx="3" ry="3" fill="#fff" stroke="#444" stroke-width="1.05"/><rect x="431.8" y="139.2" width="27.2" height="10.400000000000006" rx="3" ry="3" fill="#fff" stroke="#444" stroke-width="1.05"/><rect x="431.5" y="112.5" width="27.8" height="26.69999999999999" rx="4" ry="4" fill="#fff" stroke="#444" stroke-width="1.05"/><rect x="514" y="97.5" width="10.4" height="56.8" fill="#fff" stroke="#444" stroke-width="1"/><rect x="504" y="96.3" width="10.2" height="58.5" fill="url(#kn)" stroke="#666" stroke-width="0.8"/><rect x="524.4" y="96.3" width="11.3" height="58.5" fill="url(#kn)" stroke="#666" stroke-width="0.8"/><rect x="536" y="104.5" width="18.5" height="41.3" fill="#fff" stroke="#444" stroke-width="1"/><line x1="539.5" y1="105" x2="539.5" y2="145.5" stroke="#444" stroke-width="0.8"/><rect x="554.5" y="100.9" width="23.3" height="10.299999999999997" rx="3" ry="3" fill="#fff" stroke="#444" stroke-width="1.05"/><rect x="554.5" y="138.5" width="23.3" height="11.100000000000023" rx="3" ry="3" fill="#fff" stroke="#444" stroke-width="1.05"/><rect x="554.2" y="111.2" width="23.900000000000002" height="27.299999999999997" rx="4" ry="4" fill="#fff" stroke="#444" stroke-width="1.05"/>
</svg>
<div class="t" style="left:246.7px;top:171.5px;font-size:11px;color:#111;font-weight:bold;-webkit-text-stroke:0.5px rgba(0,0,0,0.5);">图 4</div>
<div class="t" style="left:432.5px;top:171.5px;font-size:11px;color:#111;font-weight:bold;-webkit-text-stroke:0.5px rgba(0,0,0,0.5);">图 5</div>
</body></html>
